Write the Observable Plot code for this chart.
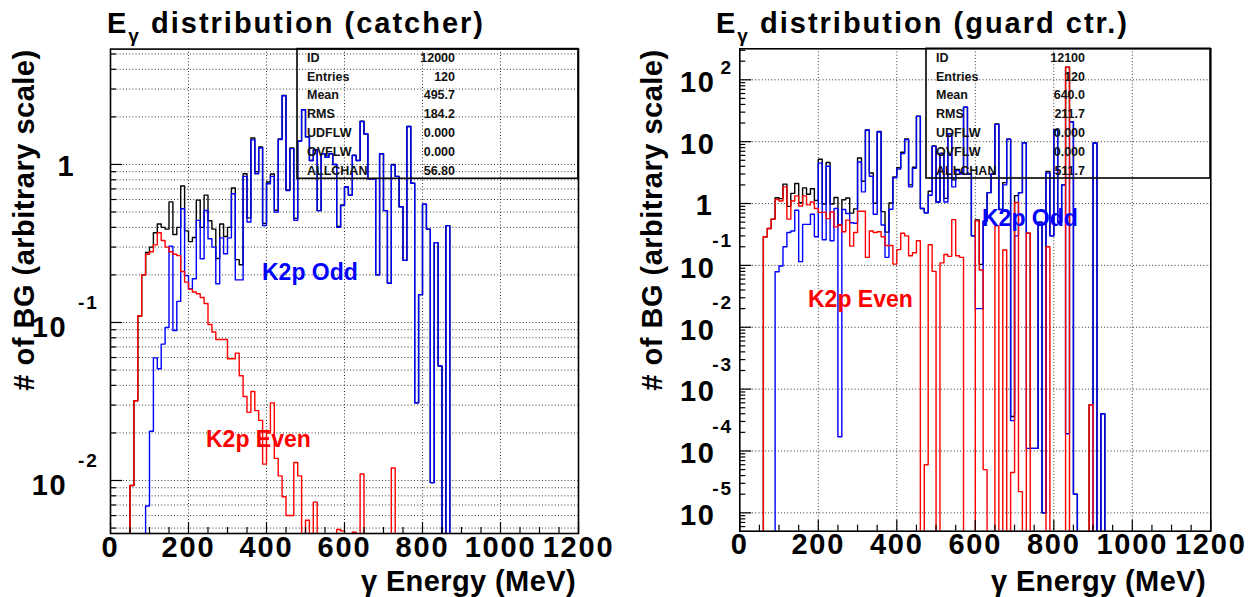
<!DOCTYPE html>
<html><head><meta charset="utf-8">
<script src="https://cdn.jsdelivr.net/npm/d3@7"></script>
<script src="https://cdn.jsdelivr.net/npm/@observablehq/plot@0.6"></script>
<style>
html,body{margin:0;padding:0;background:#fff;}
#wrap{position:relative;width:1251px;height:597px;overflow:hidden;font-family:"Liberation Sans",Arial,sans-serif;}
.panel{position:absolute;top:0;}
#overlay{position:absolute;left:0;top:0;}
</style></head><body><div id="wrap"></div>
<script>
// ---------- data (bin i covers [10*i, 10*i+10) MeV, 120 bins) ----------
const BIN_WIDTH = 10;
const N_BINS = 120;

// Left panel: catcher
const catcherTotal = [0,0,0,0,0,0.0093,0.032,0.11,0.20,0.277,
 0.30,0.37,0.42,0.40,0.39,0.58,0.36,0.40,0.73,0.38,
 0.325,0.345,0.595,0.40,0.64,0.44,0.39,0.254,0.42,0.35,
 0.40,0.71,0.25,0.232,0.874,0.459,1.47,0.90,1.29,0.424,
 0.775,0.87,0.513,1.45,2.73,0.69,1.27,0.456,1.41,2.22,
 1.50,1.06,1.24,0.51,1.17,1.11,1.17,1.0,0.405,0.555,
 0.72,0.64,1.145,1.06,1.88,1.56,0.81,0.81,0.20,1.17,
 0.51,0.177,1.0,0.84,0.54,0.247,1.74,0.76,0.031,0.15,
 0.56,0.39,0.0097,0.32,0.053,0,0.41,0,0,0,
 0,0,0,0,0,0,0,0,0,0, 0,0,0,0,0,0,0,0,0,0, 0,0,0,0,0,0,0,0,0,0];
const catcherOdd = [0,0,0,0,0,0,0,0,0,0.0069,
 0.0205,0.0597,0.051,0.073,0.093,0.304,0.089,0.136,0.524,0.198,
 0.163,0.189,0.443,0.253,0.511,0.339,0.30,0.176,0.343,0.272,
 0.343,0.652,0.186,0.186,0.84,0.432,1.43,0.873,1.27,0.411,
 0.755,0.84,0.499,1.44,2.72,0.684,1.26,0.443,1.4,2.22,
 1.49,1.06,1.23,0.51,1.17,1.11,1.17,1.0,0.40,0.55,
 0.72,0.64,1.14,1.06,1.87,1.56,0.81,0.81,0.20,1.17,
 0.51,0.177,0.99,0.84,0.54,0.247,1.74,0.76,0.031,0.15,
 0.56,0.39,0.0097,0.32,0.053,0,0.41,0,0,0,
 0,0,0,0,0,0,0,0,0,0, 0,0,0,0,0,0,0,0,0,0, 0,0,0,0,0,0,0,0,0,0];
const catcherEven = [0,0,0,0,0,0.0093,0.032,0.11,0.20,0.27,
 0.28,0.31,0.37,0.33,0.30,0.28,0.27,0.265,0.21,0.18,
 0.162,0.156,0.152,0.144,0.132,0.097,0.087,0.078,0.078,0.078,
 0.059,0.059,0.064,0.046,0.034,0.027,0.0366,0.0277,0.024,0.0127,
 0.02,0.031,0.0138,0.0107,0.0079,0.006,0.006,0.013,0.0107,0,
 0.0056,0,0.0073,0,0,0,0,0,0.0049,0.0048,
 0,0,0.0047,0,0.011,0,0,0,0,0,
 0,0,0.012,0,0,0,0,0,0,0,
 0,0,0,0,0,0,0,0,0,0,
 0,0,0,0,0,0,0,0,0,0, 0,0,0,0,0,0,0,0,0,0, 0,0,0,0,0,0,0,0,0,0];

// Right panel: guard counter
const guardTotal = [0,0,0,0,0,0,0.29,0.395,0.56,1.24,
 1.20,2.06,0.90,1.46,2.11,1.03,1.79,1.41,1.73,1.12,
 5.2,0.98,4.6,0.98,1.25,0.45,1.15,1.23,0.70,0.82,
 5.45,2.29,15.4,3.12,1.01,14.6,0.74,0.345,1.02,2.7,
 3.78,6.73,11.1,2.0,3.86,25.9,0.83,0.71,1.58,8.5,
 1.06,6.5,1.21,13.5,2.41,3.54,3.14,36,3.0,0.3,
 0.545,0.104,0.52,1.5,3.0,19.4,0.8,2.18,11,0.00036,
 1.34,1.5,9.6,0.33,0.00011,0.00011,0.5,0.00001,3.3,0.3,
 15.6,0.5,2.0,160,21,0.00002,0,0,0,0.00056,
 9.5,0,0.0004,0,0,0,0,0,0,0, 0,0,0,0,0,0,0,0,0,0, 0,0,0,0,0,0,0,0,0,0];
const guardOdd = [0,0,0,0,0,0,0,0,0,0.079,
 0.098,0.2,0.34,0.36,0.78,0.115,0.46,0.46,0.67,0.29,
 4.5,0.26,4.0,0.25,0.83,0.00017,0.8,0.69,0.49,0.48,
 4.7,1.54,15.3,2.76,0.67,14.3,0.45,0.135,0.81,2.6,
 3.6,6.4,10.8,1.86,3.7,25.6,0.83,0.71,1.36,8.4,
 1.06,6.4,1.06,13.4,1.86,3.4,3.0,36,3.0,0.3,
 0.02,0.02,0.52,1.5,3.0,19,0.8,2.0,11,0.00031,
 0.3,1.5,9.6,0.00011,0.00011,0.00011,0.5,0.00001,3.1,0.3,
 15.6,0.5,2.0,0.00019,21,0.00002,0,0,0,0,
 9.5,0,0.0004,0,0,0,0,0,0,0, 0,0,0,0,0,0,0,0,0,0, 0,0,0,0,0,0,0,0,0,0];
const guardEven = [0,0,0,0,0,0,0.29,0.395,0.56,1.16,
 1.10,1.86,0.56,1.10,1.33,0.91,1.33,0.95,1.06,0.83,
 0.72,0.72,0.57,0.73,0.42,0.45,0.35,0.54,0.205,0.34,
 0.75,0.75,0.135,0.36,0.34,0.35,0.29,0.21,0.21,0.105,
 0.18,0.33,0.30,0.143,0.16,0.25,0,0.00006,0.215,0.08,
 0,0.11,0.15,0.14,0.55,0.143,0.135,0,0,0,
 0.525,0.084,0.00005,0,0,0.436,0,0.177,0,0.000045,
 1.04,0.000022,0,0.33,0,0,0,0,0.2,0,
 0,0,0,160,0,0,0,0,0,0.00056,
 0,0,0,0,0,0,0,0,0,0, 0,0,0,0,0,0,0,0,0,0, 0,0,0,0,0,0,0,0,0,0];

// axis ticks and labels
const xMajorTicks = [0, 200, 400, 600, 800, 1000, 1200];
const xMinorTicks = [50,100,150,250,300,350,450,500,550,650,700,750,850,900,950,1050,1100,1150];
const xGridLines = [200, 400, 600, 800, 1000];

const leftYLabels = [
  {v: 1, base: "1", exp: ""},
  {v: 0.1, base: "10", exp: "-1"},
  {v: 0.01, base: "10", exp: "-2"}
];
const rightYLabels = [
  {v: 100, base: "10", exp: "2"},
  {v: 10, base: "10", exp: ""},
  {v: 1, base: "1", exp: ""},
  {v: 0.1, base: "10", exp: "-1"},
  {v: 0.01, base: "10", exp: "-2"},
  {v: 0.001, base: "10", exp: "-3"},
  {v: 0.0001, base: "10", exp: "-4"},
  {v: 0.00001, base: "10", exp: "-5"}
];
const leftStats = [["ID","12000"],["Entries","120"],["Mean","495.7"],["RMS","184.2"],["UDFLW","0.000"],["OVFLW","0.000"],["ALLCHAN","56.80"]];
const rightStats = [["ID","12100"],["Entries","120"],["Mean","640.0"],["RMS","211.7"],["UDFLW","0.000"],["OVFLW","0.000"],["ALLCHAN","511.7"]];

// ---------- helpers ----------
const FONT = "Liberation Sans, Arial, Helvetica, sans-serif";
function decadeTicks(lo, hi, mults) {
  const out = [];
  for (let k = Math.floor(Math.log10(lo)) - 1; k <= Math.ceil(Math.log10(hi)); k++) {
    for (const m of mults) {
      const v = +(m * Math.pow(10, k)).toPrecision(6);
      if (v >= lo * 0.999 && v <= hi * 1.001) out.push(v);
    }
  }
  return out;
}
function stepRows(values, floor) {
  const rows = values.map((v, i) => ({e: i * BIN_WIDTH, v: v > 0 ? v : floor}));
  rows.push({e: N_BINS * BIN_WIDTH, v: rows[rows.length - 1].v});
  return rows;
}

function makePanel(cfg) {
  const H = 597;
  const fw = cfg.width - cfg.ml - cfg.mr;
  const fh = H - cfg.mt - cfg.mb;
  const floor = cfg.ymin * 1e-6;
  const yMajor = decadeTicks(cfg.ymin, cfg.ymax, [1]);
  const yMinor = decadeTicks(cfg.ymin, cfg.ymax, [2,3,4,5,6,7,8,9]);
  const yGrid = cfg.fineGrid ? yMajor.concat(yMinor) : yMajor;
  const lineOpts = {x: "e", y: "v", curve: "step-after", strokeWidth: 1.4, clip: true};
  const oneLbl = cfg.labels.filter(d => d.base === "1");
  const tenLbl = cfg.labels.filter(d => d.base === "10");
  const negExp = cfg.labels.filter(d => d.exp.startsWith("-"));
  const posExp = cfg.labels.filter(d => d.exp !== "" && !d.exp.startsWith("-"));
  const txt = {fontSize: 29, fontWeight: "bold", fontFamily: FONT, fill: "#000"};
  return Plot.plot({
    width: cfg.width, height: H,
    marginLeft: cfg.ml, marginRight: cfg.mr, marginTop: cfg.mt, marginBottom: cfg.mb,
    style: {background: "transparent", overflow: "visible", fontFamily: FONT, letterSpacing: "1.8px"},
    x: {domain: [0, 1200], axis: null},
    y: {type: "log", domain: [cfg.ymin, cfg.ymax], axis: null},
    marks: [
      Plot.ruleY(yGrid, {y: d => d, stroke: "#000", strokeWidth: 1, strokeDasharray: "1,2.2", strokeOpacity: 0.8}),
      Plot.ruleX(xGridLines, {x: d => d, stroke: "#000", strokeWidth: 1, strokeDasharray: "1,2.2", strokeOpacity: 0.8}),
      Plot.line(stepRows(cfg.total, floor), {...lineOpts, stroke: "#000000"}),
      Plot.line(stepRows(cfg.odd, floor), {...lineOpts, stroke: "#0000ff"}),
      Plot.line(stepRows(cfg.even, floor), {...lineOpts, stroke: "#ff0000"}),
      Plot.ruleY(yMinor, {y: d => d, insetRight: fw - 6, stroke: "#000", strokeWidth: 1.2}),
      Plot.ruleY(yMajor, {y: d => d, insetRight: fw - 12, stroke: "#000", strokeWidth: 1.2}),
      Plot.ruleX(xMinorTicks, {x: d => d, insetTop: fh - 6, stroke: "#000", strokeWidth: 1.2}),
      Plot.ruleX(xMajorTicks, {x: d => d, insetTop: fh - 11, stroke: "#000", strokeWidth: 1.2}),
      Plot.frame({stroke: "#000", strokeWidth: 1.6}),
      Plot.text(xMajorTicks, {x: d => d, text: d => String(d), frameAnchor: "bottom", dy: 23, textAnchor: "middle", ...txt}),
      Plot.text(oneLbl, {y: "v", text: "base", frameAnchor: "left", textAnchor: "end", dx: cfg.oneDx, dy: cfg.oneDy, ...txt}),
      Plot.text(tenLbl, {y: "v", text: "base", frameAnchor: "left", textAnchor: "end", dx: cfg.tenDx, dy: cfg.tenDy, ...txt}),
      Plot.text(negExp, {y: "v", text: "exp", frameAnchor: "left", textAnchor: "end", dx: cfg.expDx, dy: cfg.expDy, ...txt, fontSize: 19}),
      Plot.text(posExp, {y: "v", text: "exp", frameAnchor: "left", textAnchor: "end", dx: cfg.expDx, dy: cfg.posExpDy, ...txt, fontSize: 19})
    ]
  });
}

const wrap = document.getElementById("wrap");
const leftDiv = document.createElement("div");
leftDiv.className = "panel"; leftDiv.style.left = "0px";
leftDiv.appendChild(makePanel({
  width: 625, ml: 110, mr: 47, mt: 48.6, mb: 64,
  ymin: 0.00462, ymax: 5.37, fineGrid: true,
  total: catcherTotal, odd: catcherOdd, even: catcherEven,
  labels: leftYLabels,
  oneDx: -35, oneDy: 2, tenDx: -43, tenDy: 5, expDx: -12, expDy: -20, posExpDy: -14
}));
wrap.appendChild(leftDiv);

const rightDiv = document.createElement("div");
rightDiv.className = "panel"; rightDiv.style.left = "625px";
rightDiv.appendChild(makePanel({
  width: 626, ml: 114.3, mr: 40.7, mt: 48.3, mb: 66.3,
  ymin: 5.05e-6, ymax: 317, fineGrid: false,
  total: guardTotal, odd: guardOdd, even: guardEven,
  labels: rightYLabels,
  oneDx: -26, oneDy: 2, tenDx: -24, tenDy: 3, expDx: -7, expDy: -24, posExpDy: -12
}));
wrap.appendChild(rightDiv);

// ---------- overlay: titles, axis titles, stats boxes, legends ----------
const ov = d3.select(wrap).append("svg").attr("id", "overlay")
  .attr("width", 1251).attr("height", 597)
  .style("font-family", FONT).style("pointer-events", "none");

function title(x, rest) {
  const t = ov.append("text").attr("x", x).attr("y", 33)
    .attr("font-size", 29).attr("font-weight", "bold").style("letter-spacing", "2px");
  t.append("tspan").text("E");
  t.append("tspan").attr("font-size", 19).attr("dy", 9).text("γ");
  t.append("tspan").attr("dy", -9).text(" " + rest);
}
title(107, "distribution (catcher)");
title(716, "distribution (guard ctr.)");

function yTitle(x) {
  ov.append("text").attr("transform", `translate(${x},220) rotate(-90)`)
    .attr("text-anchor", "middle").attr("font-size", 29).attr("font-weight", "bold")
    .style("letter-spacing", "0.5px").text("# of BG (arbitrary scale)");
}
yTitle(34); yTitle(662);

function xTitle(xRight) {
  ov.append("text").attr("x", xRight).attr("y", 591).attr("text-anchor", "end")
    .attr("font-size", 29).attr("font-weight", "bold").style("letter-spacing", "0.4px")
    .text("γ Energy (MeV)");
}
xTitle(576); xTitle(1206);

function statsBox(x0, x1, y0, y1, labelX, valueX, rows) {
  ov.append("rect").attr("x", x0).attr("y", y0).attr("width", x1 - x0).attr("height", y1 - y0)
    .attr("fill", "none").attr("stroke", "#000").attr("stroke-width", 1.6);
  rows.forEach((r, i) => {
    const y = 61.8 + i * 18.83;
    ov.append("text").attr("x", labelX).attr("y", y).attr("font-size", 12.5).attr("font-weight", "bold")
      .attr("fill", "#111").text(r[0]);
    ov.append("text").attr("x", valueX).attr("y", y).attr("font-size", 12.5).attr("font-weight", "bold")
      .attr("fill", "#111").attr("text-anchor", "end").text(r[1]);
  });
}
statsBox(297, 578, 48.6, 178.3, 307, 455, leftStats);
statsBox(926, 1210, 48.3, 178, 936, 1085, rightStats);

function legend(x, y, color, s) {
  ov.append("text").attr("x", x).attr("y", y).attr("font-size", 23).attr("font-weight", "bold")
    .attr("fill", color).text(s);
}
legend(262, 280, "#0000ff", "K2p Odd");
legend(206, 447, "#ff0000", "K2p Even");
legend(982, 226, "#0000ff", "K2p Odd");
legend(808, 307, "#ff0000", "K2p Even");
</script></body></html>
